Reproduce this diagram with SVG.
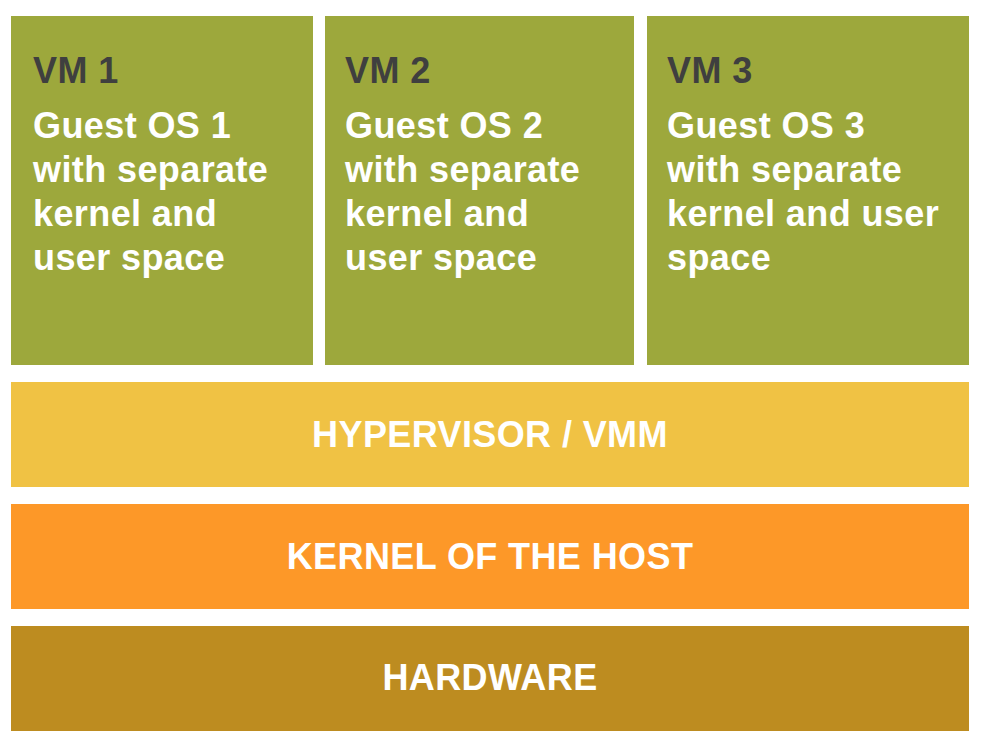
<svg xmlns="http://www.w3.org/2000/svg" width="982" height="744" viewBox="0 0 982 744">
<style>
text{font-family:"Liberation Sans",Arial,sans-serif;font-weight:bold;font-size:36px;letter-spacing:0.4px}
.vm{fill:#9da83c}
.t{fill:#3f3f3f}
.w{fill:#ffffff}
.c{text-anchor:middle}
</style>
<rect width="982" height="744" fill="#ffffff"/>
<g id="vm1">
<rect class="vm" x="11" y="16" width="302" height="349"/>
<text class="t" x="33" y="83">VM 1</text>
<text class="w" x="33" y="138">Guest OS 1</text>
<text class="w" x="33" y="182">with separate</text>
<text class="w" x="33" y="226">kernel and</text>
<text class="w" x="33" y="270">user space</text>
</g>
<g id="vm2">
<rect class="vm" x="325" y="16" width="309" height="349"/>
<text class="t" x="345" y="83">VM 2</text>
<text class="w" x="345" y="138">Guest OS 2</text>
<text class="w" x="345" y="182">with separate</text>
<text class="w" x="345" y="226">kernel and</text>
<text class="w" x="345" y="270">user space</text>
</g>
<g id="vm3">
<rect class="vm" x="647" y="16" width="322" height="349"/>
<text class="t" x="667" y="83">VM 3</text>
<text class="w" x="667" y="138">Guest OS 3</text>
<text class="w" x="667" y="182">with separate</text>
<text class="w" x="667" y="226">kernel and user</text>
<text class="w" x="667" y="270">space</text>
</g>
<g id="hypervisor">
<rect x="11" y="382" width="958" height="105" fill="#f0c244"/>
<text class="w c" x="490" y="447">HYPERVISOR / VMM</text>
</g>
<g id="kernel">
<rect x="11" y="504" width="958" height="105" fill="#fd9828"/>
<text class="w c" x="490" y="569">KERNEL OF THE HOST</text>
</g>
<g id="hardware">
<rect x="11" y="626" width="958" height="105" fill="#bd8c20"/>
<text class="w c" x="490" y="690">HARDWARE</text>
</g>
<g id="connectors"></g>
</svg>
